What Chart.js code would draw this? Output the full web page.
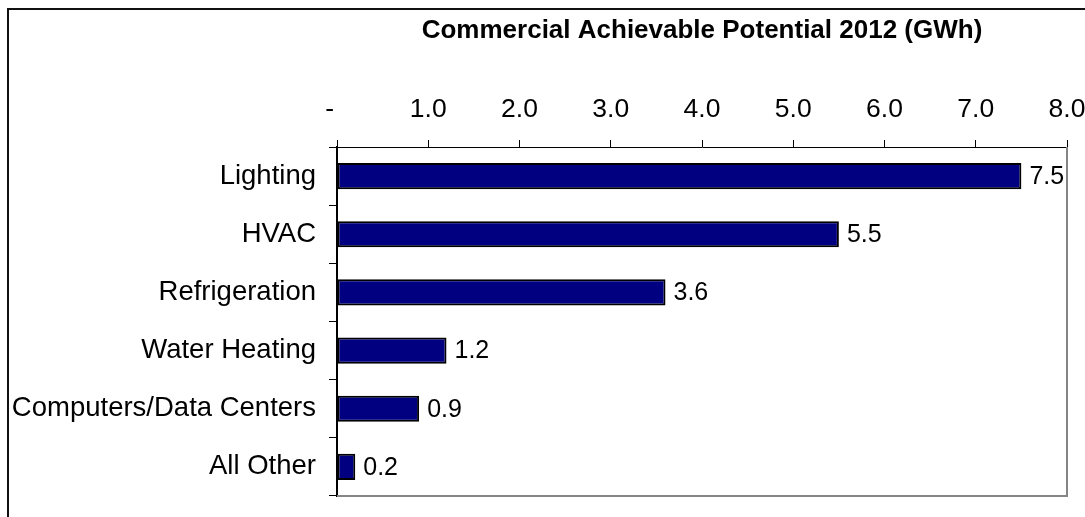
<!DOCTYPE html>
<html>
<head>
<meta charset="utf-8">
<script src="https://cdn.jsdelivr.net/npm/chart.js@4/dist/chart.umd.min.js"></script>
<style>
  html, body { margin: 0; padding: 0; background: #fff; }
  canvas { display: block; }
</style>
</head>
<body>
<canvas id="chart" width="1085" height="517"></canvas>
<script>
// End uses and their achievable savings (GWh)
const categories = ['Lighting', 'HVAC', 'Refrigeration', 'Water Heating', 'Computers/Data Centers', 'All Other'];
const savings = [7.5, 5.5, 3.6, 1.2, 0.9, 0.2];
const tickLabels = ['-  ', '1.0', '2.0', '3.0', '4.0', '5.0', '6.0', '7.0', '8.0'];
const chartTitle = 'Commercial Achievable Potential 2012 (GWh)';

const FONT = "'Liberation Sans', Arial, Helvetica, sans-serif";

// Page frame (left and top edges) behind the chart
const framePlugin = {
  id: 'frame',
  beforeDraw(chart) {
    const ctx = chart.ctx;
    ctx.save();
    ctx.strokeStyle = '#111';
    ctx.lineWidth = 2;
    ctx.beginPath();
    ctx.moveTo(8, chart.height);
    ctx.lineTo(8, 9);
    ctx.lineTo(chart.width, 9);
    ctx.stroke();
    ctx.restore();
  }
};

// Grey right and bottom edges of the plot area
const plotEdgePlugin = {
  id: 'plotEdge',
  afterDraw(chart) {
    const { ctx, chartArea: a } = chart;
    ctx.save();
    ctx.strokeStyle = '#858585';
    ctx.lineWidth = 2;
    ctx.beginPath();
    ctx.moveTo(a.left, a.bottom);
    ctx.lineTo(a.right, a.bottom);
    ctx.lineTo(a.right, a.top);
    ctx.stroke();
    ctx.restore();
  }
};

// Value labels to the right of each bar
const valueLabelPlugin = {
  id: 'valueLabels',
  afterDatasetsDraw(chart) {
    const ctx = chart.ctx;
    const meta = chart.getDatasetMeta(0);
    const data = chart.data.datasets[0].data;
    ctx.save();
    ctx.font = '25px ' + FONT;
    ctx.fillStyle = '#000';
    ctx.textAlign = 'left';
    ctx.textBaseline = 'middle';
    meta.data.forEach((bar, i) => {
      ctx.fillText(data[i].toFixed(1), bar.x + 8, bar.y + 1);
    });
    ctx.restore();
  }
};

new Chart(document.getElementById('chart'), {
  type: 'bar',
  data: {
    labels: categories,
    datasets: [{
      data: savings,
      backgroundColor: '#000080',
      borderColor: '#000',
      borderWidth: 2,
      borderSkipped: false,
      categoryPercentage: 1,
      barPercentage: 0.45
    }]
  },
  options: {
    indexAxis: 'y',
    responsive: false,
    animation: false,
    devicePixelRatio: 1,
    layout: { padding: { top: 0, left: 0, right: 18, bottom: 21 } },
    plugins: {
      legend: { display: false },
      tooltip: { enabled: false },
      title: { display: false }
    },
    scales: {
      x: {
        type: 'linear',
        position: 'top',
        min: 0,
        max: 8,
        ticks: {
          stepSize: 1,
          padding: 14,
          color: '#000',
          font: { family: FONT, size: 26.5 },
          callback: (v, i) => tickLabels[i]
        },
        grid: { drawOnChartArea: false, drawTicks: true, tickLength: 7, color: '#000', lineWidth: 1 },
        border: { display: true, color: '#000', width: 1 },
        title: {
          display: true,
          text: chartTitle,
          color: '#000',
          font: { family: FONT, size: 26, weight: 'bold' },
          padding: { top: 15, bottom: 0 }
        },
        afterFit(scale) {
          scale.height = 147;
          scale.paddingLeft = 0;
          scale.paddingRight = 0;
        }
      },
      y: {
        type: 'category',
        position: 'left',
        ticks: {
          padding: 13,
          color: '#000',
          font: { family: FONT, size: 27.5 }
        },
        grid: { drawOnChartArea: false, drawTicks: true, tickLength: 8, color: '#000', lineWidth: 1, offset: true },
        border: { display: true, color: '#000', width: 2 },
        afterFit(scale) {
          scale.width = 337;
          scale.paddingTop = 0;
          scale.paddingBottom = 0;
        }
      }
    }
  },
  plugins: [framePlugin, plotEdgePlugin, valueLabelPlugin]
});
</script>
</body>
</html>
